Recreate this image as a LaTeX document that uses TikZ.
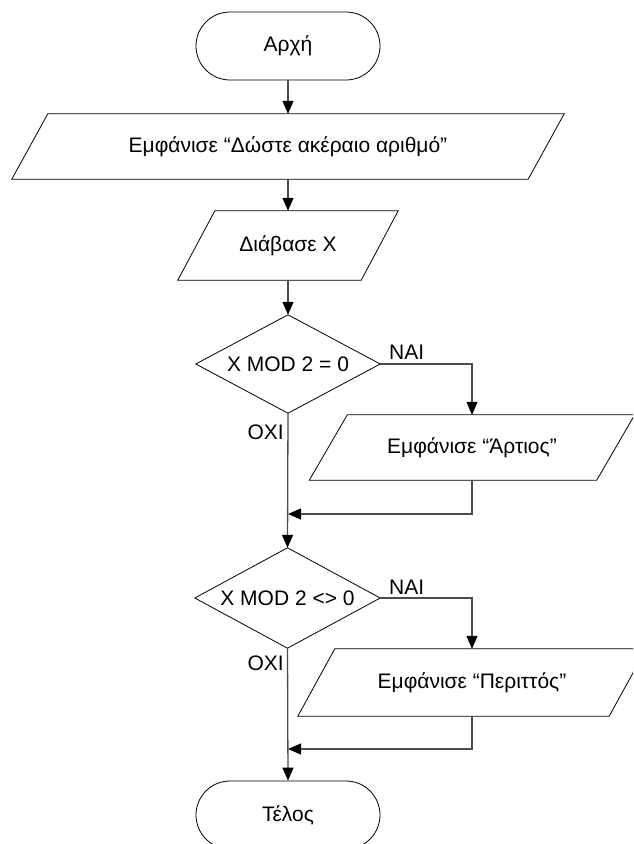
\documentclass[tikz,border=0pt]{standalone}
\usepackage{fontspec}
\setmainfont{Liberation Sans}
\usetikzlibrary{arrows.meta}

\tikzset{
  outline/.style={draw=black, line width=0.8pt},
  term/.style={outline, rectangle, rounded corners=34pt, minimum width=184pt,
    minimum height=68pt, inner sep=0pt},
  box/.style={rectangle, inner sep=0pt},
  conn/.style={draw=black!70, line width=1.3pt,
    -{Triangle[length=13pt,width=11pt,color=black,fill=black]}},
  lbl/.style={inner sep=0pt},
}

\begin{document}
\begin{tikzpicture}[x=1pt,y=-1pt,font=\fontsize{21}{24}\selectfont]
  \useasboundingbox (0,0) rectangle (633,844);
  \clip (0,0) rectangle (633,844);

  % terminals
  \node[term] (start) at (288,46) {Αρχή};
  \node[term] (stop) at (288,815) {Τέλος};

  % input/output boxes: a rectangle node, outlined as a parallelogram
  \node[box, minimum width=516pt, minimum height=65pt] (p1) at (288,146.5)
    {Εμφάνισε “Δώστε ακέραιο αριθμό”};
  \draw[outline] ([xshift=18pt]p1.north west) -- ([xshift=18pt]p1.north east)
    -- ([xshift=-18pt]p1.south east) -- ([xshift=-18pt]p1.south west) -- cycle;

  \node[box, minimum width=183pt, minimum height=69pt] (p2) at (288,245.5)
    {Διάβασε X};
  \draw[outline] ([xshift=18.5pt]p2.north west) -- ([xshift=18.5pt]p2.north east)
    -- ([xshift=-18.5pt]p2.south east) -- ([xshift=-18.5pt]p2.south west) -- cycle;

  \node[box, minimum width=287pt, minimum height=65pt] (p3) at (472,447.5)
    {Εμφάνισε “Άρτιος”};
  \draw[outline] ([xshift=19pt]p3.north west) -- ([xshift=19pt]p3.north east)
    -- ([xshift=-19pt]p3.south east) -- ([xshift=-19pt]p3.south west) -- cycle;

  \node[box, minimum width=311pt, minimum height=67pt] (p4) at (472,682.5)
    {Εμφάνισε “Περιττός”};
  \draw[outline] ([xshift=18.5pt]p4.north west) -- ([xshift=18.5pt]p4.north east)
    -- ([xshift=-18.5pt]p4.south east) -- ([xshift=-18.5pt]p4.south west) -- cycle;

  % decisions: a rectangle node, outlined as a diamond through its side midpoints
  \node[box, minimum width=184pt, minimum height=98pt] (d1) at (288,364)
    {X MOD 2 = 0};
  \draw[outline] (d1.north) -- (d1.east) -- (d1.south) -- (d1.west) -- cycle;
  \node[box, minimum width=185pt, minimum height=100pt] (d2) at (287.5,598)
    {X MOD 2 <> 0};
  \draw[outline] (d2.north) -- (d2.east) -- (d2.south) -- (d2.west) -- cycle;

  % junctions on the main line
  \coordinate (j1) at (288,514);
  \coordinate (j2) at (288,749);

  % connectors
  \draw[conn] (start.south) -- (p1.north);
  \draw[conn] (p1.south) -- (p2.north);
  \draw[conn] (p2.south) -- (d1.north);
  \draw[conn] (d1.east) -| (p3.north);
  \draw[conn] (p3.south) |- (j1);
  \draw[conn] (d1.south) -- (d2.north);
  \draw[conn] (d2.east) -| (p4.north);
  \draw[conn] (p4.south) |- (j2);
  \draw[conn] (d2.south) -- (stop.north);

  % branch labels
  \node[lbl, anchor=west] (y1) at (389,352) {NAI};
  \node[lbl, anchor=east] (n1) at (284,432) {OXI};
  \node[lbl, anchor=west] (y2) at (389,587) {NAI};
  \node[lbl, anchor=east] (n2) at (284,663) {OXI};
\end{tikzpicture}
\end{document}
